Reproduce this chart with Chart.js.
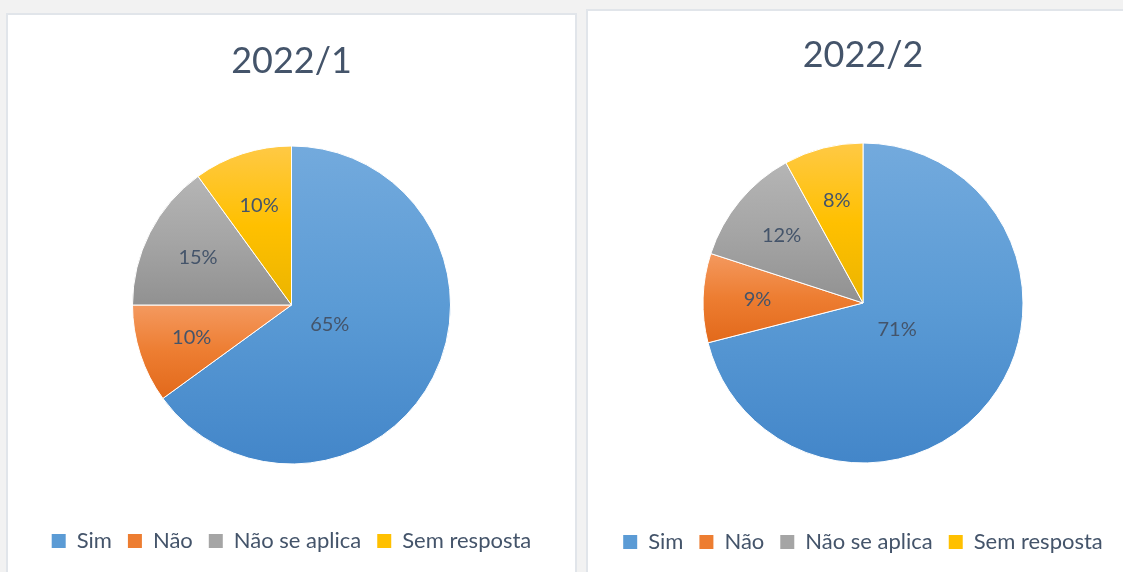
<!DOCTYPE html>
<html>
<head>
<meta charset="utf-8">
<title>2022/1 - 2022/2</title>
<script src="https://cdn.jsdelivr.net/npm/chart.js@4"></script>
<style>
  html, body { margin: 0; padding: 0; background: #f2f2f2; overflow: hidden; width: 1123px; height: 572px; }
  .card { position: absolute; background: #fff; border: 2px solid #e1e5ea; }
  #card1 { left: 6px; top: 13px; width: 567px; height: 570px; }
  #card2 { left: 586px; top: 9px; width: 550px; height: 570px; }
  canvas { display: block; }
</style>
</head>
<body>
<div class="card" id="card1"><canvas id="chart1" width="567" height="557"></canvas></div>
<div class="card" id="card2"><canvas id="chart2" width="550" height="561"></canvas></div>
<script>
// data
const categories = ['Sim', 'Não', 'Não se aplica', 'Sem resposta'];
const titles = ['2022/1', '2022/2'];
const values2022_1 = [65, 10, 15, 10];
const values2022_2 = [71, 9, 12, 8];

const textColor = '#44546a';
const palette = [
    { light: '#73aadd', mid: '#5b9bd5', dark: '#4386c9' },
    { light: '#f4995f', mid: '#ed7d31', dark: '#e2691b' },
    { light: '#b5b5b5', mid: '#a5a5a5', dark: '#919191' },
    { light: '#ffc945', mid: '#ffc000', dark: '#ebb400' }
];

// each slice gets its own top-to-bottom gradient, like the office style
function sliceGradient(context) {
    const chart = context.chart;
    const area = chart.chartArea;
    const base = palette[context.dataIndex];
    const meta = chart.getDatasetMeta(context.datasetIndex);
    const R = meta.controller && meta.controller.outerRadius;
    if (!area || !R) return base.mid;
    const cx = (area.left + area.right) / 2;
    const cy = (area.top + area.bottom) / 2;
    const data = context.dataset.data;
    const total = data.reduce((a, b) => a + b, 0);
    let before = 0;
    for (let i = 0; i < context.dataIndex; i++) before += data[i];
    const a0 = -Math.PI / 2 + 2 * Math.PI * before / total;
    const a1 = a0 + 2 * Math.PI * data[context.dataIndex] / total;
    let top = cy, bottom = cy;
    [a0, a1].forEach(a => {
        const py = cy + Math.sin(a) * R;
        top = Math.min(top, py);
        bottom = Math.max(bottom, py);
    });
    if (a0 <= -Math.PI / 2 + 1e-6 || a1 >= 1.5 * Math.PI - 1e-6) top = cy - R;
    if (a0 <= Math.PI / 2 && a1 >= Math.PI / 2) bottom = cy + R;
    const g = chart.ctx.createLinearGradient(0, top, 0, bottom);
    g.addColorStop(0, base.light);
    g.addColorStop(0.5, base.mid);
    g.addColorStop(1, base.dark);
    return g;
}

// percentage labels inside the slices
const pieLabels = {
    id: 'pieLabels',
    afterDatasetsDraw(chart) {
        const ctx = chart.ctx;
        const meta = chart.getDatasetMeta(0);
        const data = chart.data.datasets[0].data;
        const total = data.reduce((a, b) => a + b, 0);
        ctx.save();
        ctx.font = '20px Lato';
        ctx.fillStyle = textColor;
        ctx.textAlign = 'center';
        ctx.textBaseline = 'middle';
        meta.data.forEach((arc, i) => {
            const p = arc.getProps(['x', 'y', 'startAngle', 'endAngle', 'outerRadius'], true);
            const mid = (p.startAngle + p.endAngle) / 2;
            const share = data[i] / total;
            const r = p.outerRadius * (share > 0.5 ? 0.27 : 0.66);
            ctx.fillText(data[i] + '%', p.x + Math.cos(mid) * r, p.y + Math.sin(mid) * r);
        });
        ctx.restore();
    }
};

function makePie(canvasId, title, values, radius, titleTop, titleGap, bottomPad) {
    return new Chart(document.getElementById(canvasId), {
        type: 'pie',
        data: {
            labels: categories,
            datasets: [{
                data: values,
                backgroundColor: sliceGradient,
                borderColor: '#ffffff',
                borderWidth: 1,
                hoverOffset: 0,
                radius: radius
            }]
        },
        options: {
            responsive: false,
            animation: false,
            layout: { padding: { top: 0, bottom: bottomPad, left: 0, right: 0 } },
            plugins: {
                title: {
                    display: true,
                    text: title,
                    color: textColor,
                    font: { family: 'Lato', size: 36, weight: 'normal', lineHeight: 1.2 },
                    padding: { top: titleTop, bottom: titleGap }
                },
                legend: {
                    position: 'bottom',
                    labels: {
                        color: textColor,
                        font: { family: 'Lato', size: 22 },
                        boxWidth: 14,
                        boxHeight: 14,
                        padding: 16,
                        generateLabels(chart) {
                            const items = Chart.overrides.doughnut.plugins.legend.labels.generateLabels(chart);
                            items.forEach((it, i) => {
                                it.fillStyle = palette[i].mid;
                                it.strokeStyle = palette[i].mid;
                                it.lineWidth = 0;
                            });
                            return items;
                        }
                    }
                },
                tooltip: { enabled: false }
            }
        },
        plugins: [pieLabels]
    });
}

makePie('chart1', titles[0], values2022_1, 159, 25, 12.8, 10);
makePie('chart2', titles[1], values2022_2, 160, 23, 13.8, 9);
</script>
</body>
</html>
